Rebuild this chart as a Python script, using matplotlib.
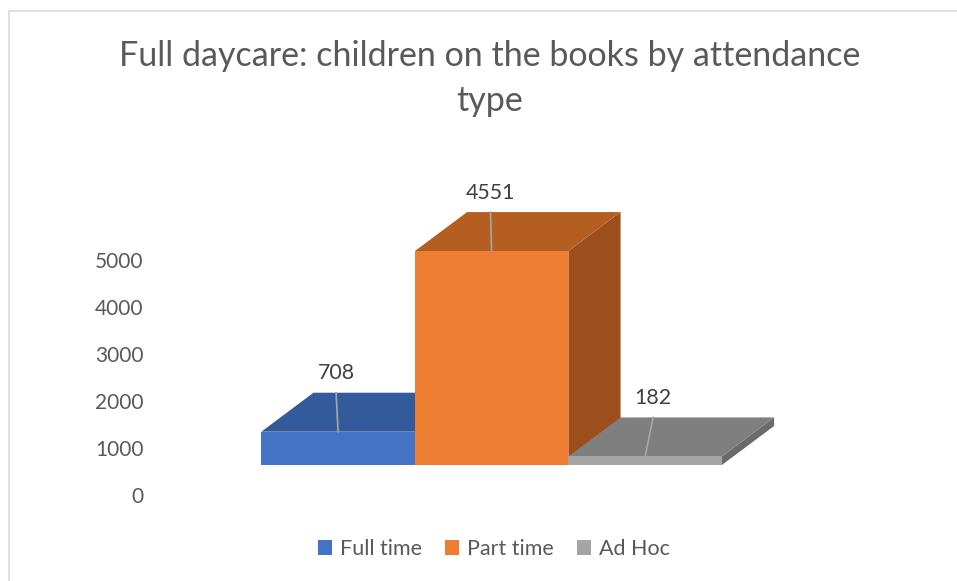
import matplotlib.pyplot as plt
from matplotlib.patches import Polygon, Patch, Rectangle

# data
categories = ['Full time', 'Part time', 'Ad Hoc']
values = [708, 4551, 182]
front_cols = ['#4472C4', '#ED7D31', '#A5A5A5']
top_cols = ['#335A9A', '#B45E22', '#7F7F7F']
side_cols = ['#284780', '#9C4F1C', '#6B6B6B']
yticks = [0, 1000, 2000, 3000, 4000, 5000]
title = 'Full daycare: children on the books by attendance\ntype'

plt.rcParams['font.family'] = ['Lato', 'DejaVu Sans']
txt = '#595959'

fig = plt.figure(figsize=(9.57, 5.81), dpi=100)
# chart border
fig.patches.append(Rectangle((9 / 957, -0.1), 1.0, 1 - 11 / 581 + 0.1,
                             transform=fig.transFigure, fill=False,
                             edgecolor='#D9D9D9', linewidth=1.2))

ax = fig.add_axes([150 / 957, 81 / 581, 750 / 957, 350 / 581])
ax.set_xlim(-1.225, 3.66)
ax.set_ylim(-745, 6702)
for s in ax.spines.values():
    s.set_visible(False)
ax.set_xticks([])

# 3d look: depth offsets in data units
dx, dy = 0.34, 830
w = 1.0
tick_shift = -638  # labels sit lower than bar floor

x = list(range(len(values)))
ax.bar(x, values, width=w, color=front_cols, zorder=2)
for i, v in enumerate(values):
    l, r = i - w / 2, i + w / 2
    top = Polygon([(l, v), (r, v), (r + dx, v + dy), (l + dx, v + dy)],
                  closed=True, facecolor=top_cols[i], edgecolor='none', zorder=2 + i)
    side = Polygon([(r, 0), (r, v), (r + dx, v + dy), (r + dx, dy)],
                   closed=True, facecolor=side_cols[i], edgecolor='none', zorder=1.5 + i)
    ax.add_patch(side)
    ax.add_patch(top)
    # leader + label
    off = [-0.013, -0.007, 0.052][i]
    ax.plot([i, i + off], [v, v + dy], color='#A6A6A6', lw=1.2, zorder=3 + i)
    ax.annotate(str(v), (i + off, v + dy), xytext=(0, 14), textcoords='offset points',
                ha='center', va='center', fontsize=15.4, color='#404040')
# re-draw front faces above neighbouring tops
for i, v in enumerate(values):
    ax.add_patch(Rectangle((i - w / 2, 0), w, v, facecolor=front_cols[i],
                           edgecolor='none', zorder=2.6 + i))

ax.set_yticks([t + tick_shift for t in yticks], [str(t) for t in yticks])
ax.tick_params(axis='y', length=0, pad=4.5, labelsize=15, labelcolor=txt)

line1, line2 = title.split('\n')
fig.text(489.5 / 957, 1 - 66 / 581, line1, ha='center', va='baseline',
         fontsize=24.5, color=txt)
fig.text(489.5 / 957, 1 - 111 / 581, line2, ha='center', va='baseline',
         fontsize=24.5, color=txt)

handles = [Patch(facecolor=c, label=n) for c, n in zip(front_cols, categories)]
fig.legend(handles=handles, loc='center', bbox_to_anchor=(494 / 957, 1 - 549 / 581),
           ncol=3, frameon=False, fontsize=15.5, handlelength=0.65, handleheight=0.65,
           handletextpad=0.4, columnspacing=1.05, labelcolor=txt)

fig.savefig('out.png', dpi=100)
